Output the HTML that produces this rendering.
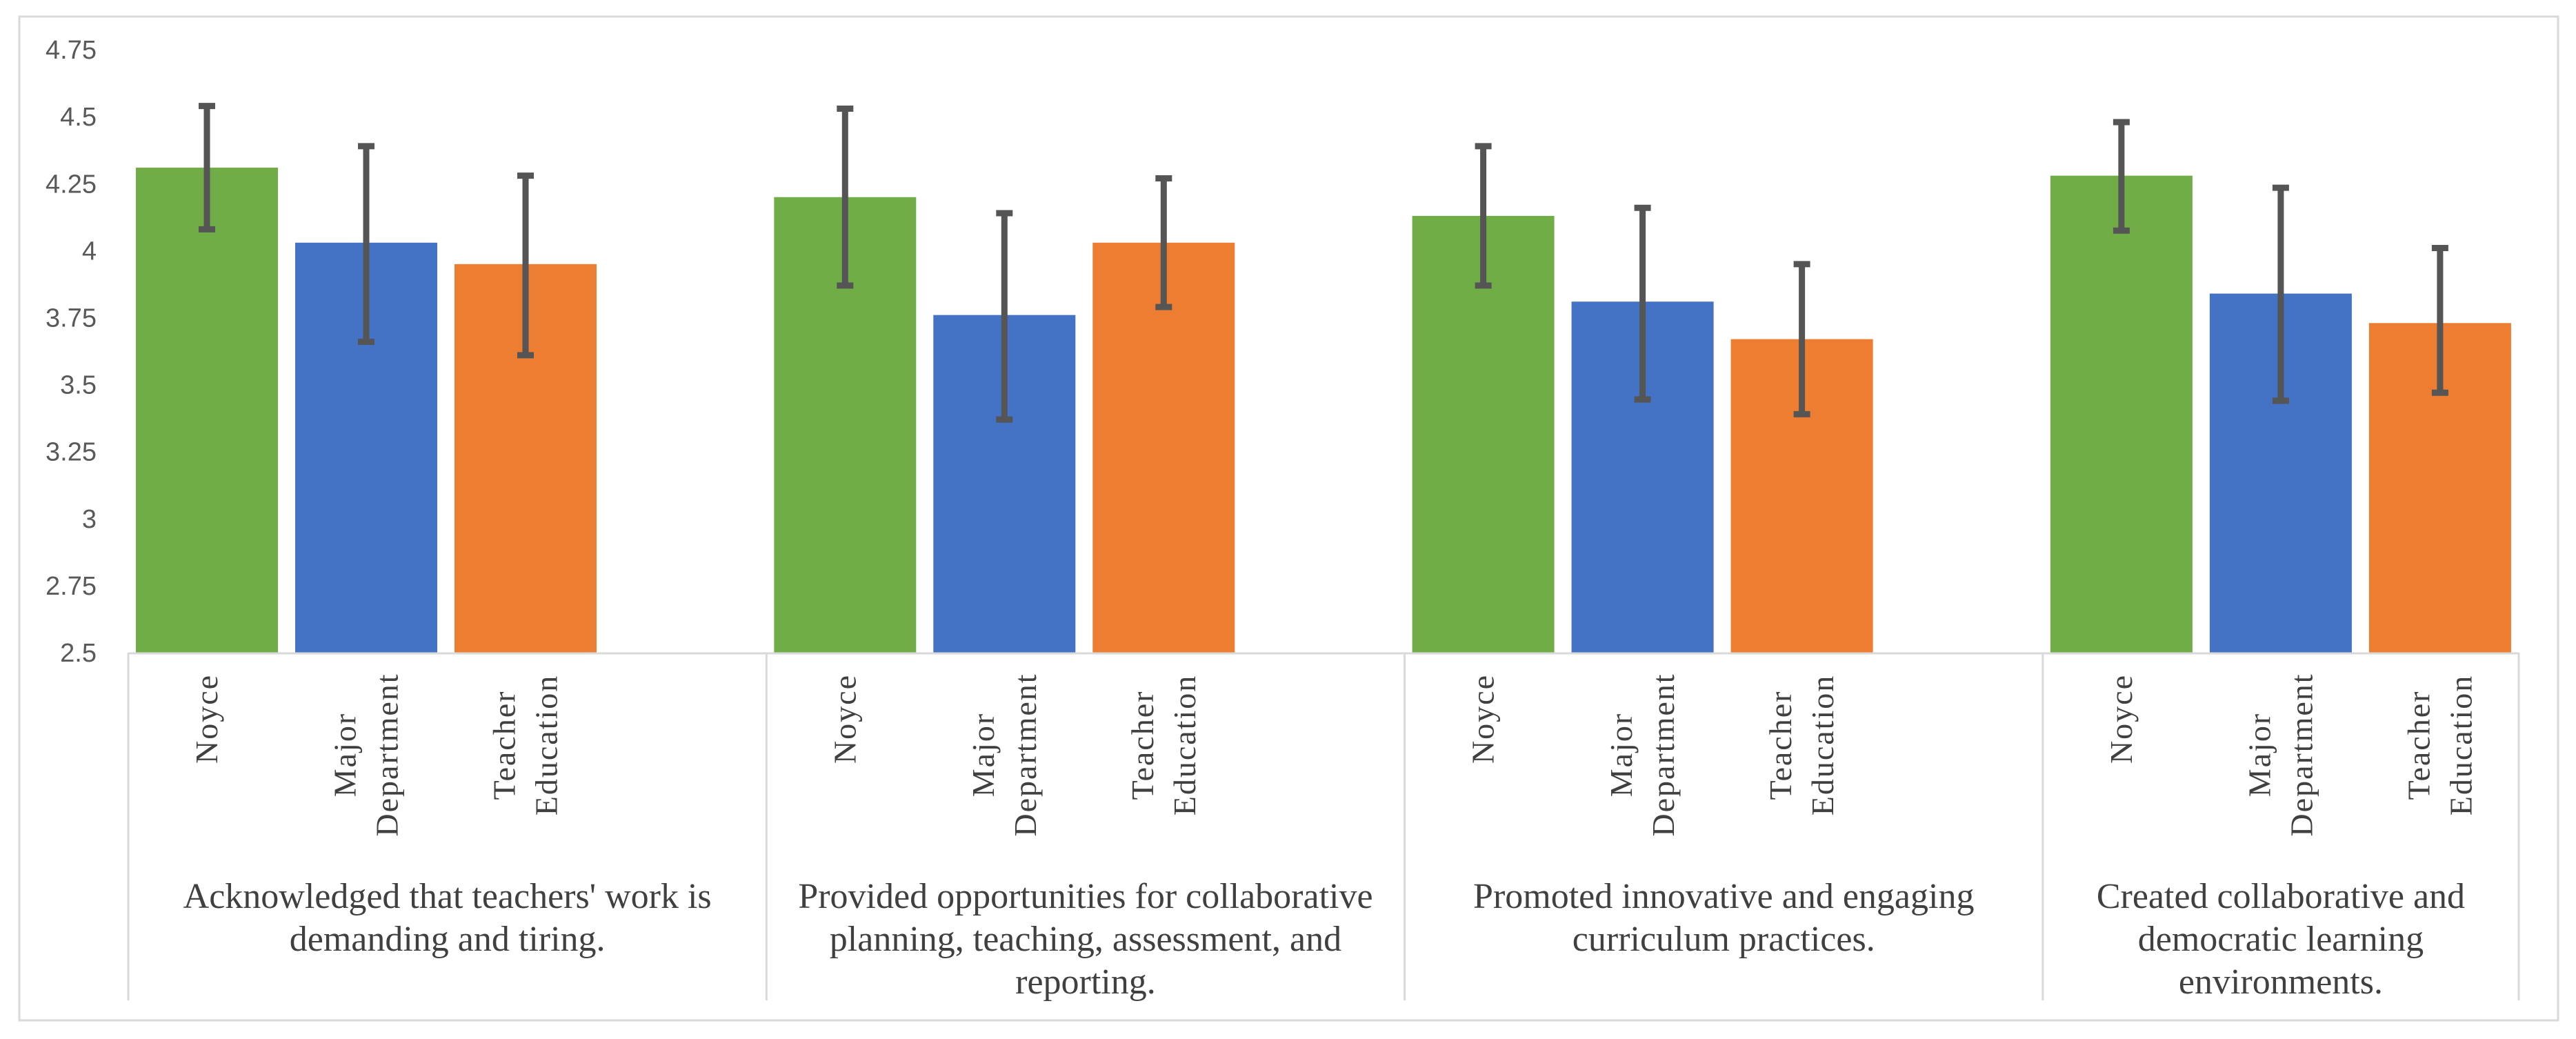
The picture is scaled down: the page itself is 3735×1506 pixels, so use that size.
<!DOCTYPE html>
<html><head><meta charset="utf-8"><style>
html,body{margin:0;padding:0;background:#fff;}
svg{display:block;}
</style></head><body>
<svg id="chart" width="3735" height="1506" viewBox="0 0 3735 1506" xmlns="http://www.w3.org/2000/svg">
<rect x="28" y="24" width="3681" height="1455" fill="#fff" stroke="#d9d9d9" stroke-width="3"/>
<g id="yaxis"></g>
<g id="bars"></g>
<g id="errs"></g>
<g id="xaxis"></g>
</svg>
<script>
const categories = [
  ["Acknowledged that teachers' work is","demanding and tiring."],
  ["Provided opportunities for collaborative","planning, teaching, assessment, and","reporting."],
  ["Promoted innovative and engaging","curriculum practices."],
  ["Created collaborative and","democratic learning","environments."]
];
const seriesNames = ["Noyce","Major Department","Teacher Education"];
const noyce = [4.31, 4.20, 4.13, 4.28];
const majorDept = [4.03, 3.76, 3.81, 3.84];
const teacherEd = [3.95, 4.03, 3.67, 3.73];
const noyceHi = [4.54, 4.53, 4.39, 4.48];
const noyceLo = [4.08, 3.87, 3.87, 4.075];
const majorHi = [4.39, 4.14, 4.16, 4.235];
const majorLo = [3.66, 3.37, 3.445, 3.44];
const teachHi = [4.28, 4.27, 3.95, 4.01];
const teachLo = [3.61, 3.79, 3.39, 3.47];
const yTicks = ["2.5","2.75","3","3.25","3.5","3.75","4","4.25","4.5","4.75"];

const NS="http://www.w3.org/2000/svg";
function mk(tag, parent, attrs){const e=document.createElementNS(NS,tag);for(const k in attrs)e.setAttribute(k,attrs[k]);parent.appendChild(e);return e;}
const Y0=946, YMIN=2.5, PXPER=388.4;
function yScale(v){return Y0-(v-YMIN)*PXPER;}
const AX0=186, GSTEP=925.3, BW=206, BSTEP=231, BOFF=11;
function xBar(g,s){return AX0+g*GSTEP+BOFF+s*BSTEP;}

const colors=["#70AD47","#4472C4","#ED7D31"];
const vals=[noyce,majorDept,teacherEd];
const his=[noyceHi,majorHi,teachHi];
const los=[noyceLo,majorLo,teachLo];
const yax=document.getElementById('yaxis');
yTicks.forEach(t=>{
  const e=mk('text',yax,{x:140,y:yScale(parseFloat(t))+13,'text-anchor':'end','font-family':'"Liberation Sans Narrow","Liberation Sans",sans-serif','font-size':38,fill:'#595959'});
  
  
  e.textContent=t;
});
const bars=document.getElementById('bars'), errs=document.getElementById('errs'), xa=document.getElementById('xaxis');
for(let g=0;g<categories.length;g++){
  for(let s=0;s<3;s++){
    const x=xBar(g,s), v=vals[s][g];
    const r=mk('rect',bars,{x:x,y:yScale(v),width:BW,height:Y0-yScale(v),fill:colors[s]});
    
    
    const cx=x+BW/2, yh=yScale(his[s][g]), yl=yScale(los[s][g]);
    const eg=mk('g',errs,{stroke:'#555555','stroke-width':9});
    
    
    mk('line',eg,{x1:cx,x2:cx,y1:yh,y2:yl});
    mk('line',eg,{x1:cx-12,x2:cx+12,y1:yh,y2:yh});
    mk('line',eg,{x1:cx-12,x2:cx+12,y1:yl,y2:yl});
  }
}
mk('line',xa,{x1:AX0,x2:3652,y1:Y0+1,y2:Y0+1,stroke:'#d9d9d9','stroke-width':3});
for(let g=0;g<categories.length;g++){
  const sx=AX0+g*GSTEP;
  const l=mk('line',xa,{x1:sx,x2:sx,y1:Y0,y2:1450,stroke:'#d9d9d9','stroke-width':3});
  
  
}
mk('line',xa,{x1:3652,x2:3652,y1:Y0,y2:1450,stroke:'#d9d9d9','stroke-width':3});
const labelLines=[["Noyce"],["Major","Department"],["Teacher","Education"]];
const labelCenters=[1042,1094,1080];
const serif='"Liberation Serif",serif';
for(let g=0;g<categories.length;g++){
  for(let s=0;s<3;s++){
    const cx=xBar(g,s)+BW/2, lines=labelLines[s], n=lines.length;
    lines.forEach((ln,i)=>{
      const px=cx+(i-(n-1)/2)*61+15;
      const cy=labelCenters[s];
      const t=mk('text',xa,{x:px,y:cy,'text-anchor':'middle','font-family':serif,'font-size':46,fill:'#404040','letter-spacing':'2',transform:`rotate(-90 ${px} ${cy})`});
      
      
      t.textContent=ln;
    });
  }
  const gc = g<3 ? AX0+g*GSTEP+GSTEP/2 : (AX0+g*GSTEP+3652)/2;
  categories[g].forEach((ln,i)=>{
    const t=mk('text',xa,{x:gc,y:1316+i*62,'text-anchor':'middle','font-family':serif,'font-size':52,fill:'#404040'});
    
    
    t.textContent=ln;
  });
}
</script>
</body></html>
